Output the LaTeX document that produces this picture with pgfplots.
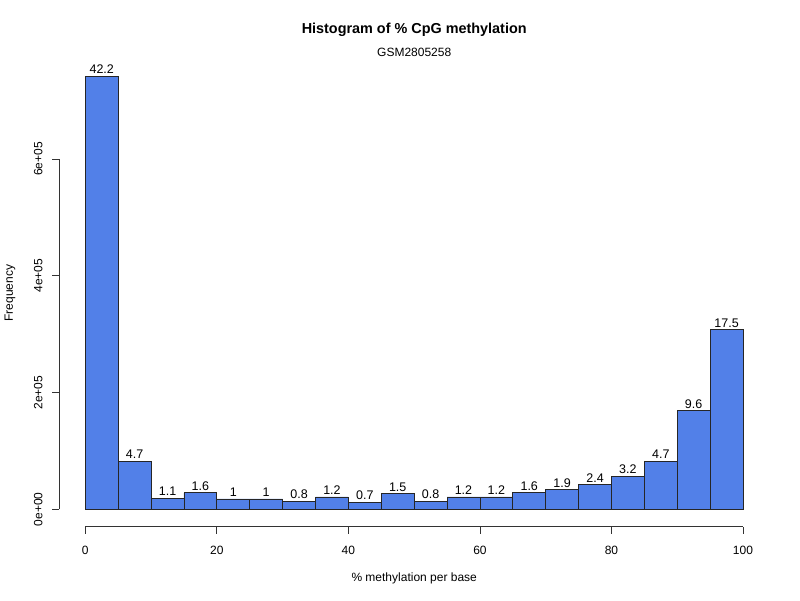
\documentclass[border=0pt]{standalone}
\usepackage{fontspec}
\setmainfont{Liberation Sans}
\usepackage{pgfplots}
\pgfplotsset{compat=1.18}
\usepackage{pgfplotstable}
\definecolor{barblue}{RGB}{82,128,232}
\pgfplotstableread{
x y lab
2.5 741900 42.2
7.5 82600 4.7
12.5 19300 1.1
17.5 28100 1.6
22.5 17600 1
27.5 17600 1
32.5 14100 0.8
37.5 21100 1.2
42.5 12300 0.7
47.5 26400 1.5
52.5 14100 0.8
57.5 21100 1.2
62.5 21100 1.2
67.5 28100 1.6
72.5 33400 1.9
77.5 42200 2.4
82.5 56300 3.2
87.5 82600 4.7
92.5 168800 9.6
97.5 307700 17.5
}\histdata
\begin{document}
\begin{tikzpicture}[x=1pt,y=1pt]
\path[use as bounding box] (0,0) rectangle (800,600);
\begin{axis}[
  at={(59pt,73.4pt)}, anchor=south west,
  scale only axis, width=710.3pt, height=467.9pt,
  xmin=-4, xmax=104, ymin=-29690, ymax=771900,
  axis line style={draw=none},
  xtick={0,20,40,60,80,100},
  ytick={0,200000,400000,600000},
  yticklabels={0e+00,2e+05,4e+05,6e+05},
  scaled y ticks=false,
  xtick pos=bottom, ytick pos=left,
  tick align=outside, major tick length=7pt,
  tick style={black!80, line width=0.8pt},
  ticklabel style={font=\fontsize{12}{14}\selectfont},
  /pgf/number format/assume math mode=true,
  yticklabel style={rotate=90, anchor=south},
  xticklabel shift=9pt,
  yticklabel shift=6pt,
  clip=false,
]
\addplot[ybar, bar width=5, fill=barblue, draw=black!85, line width=0.8pt,
  nodes near coords, point meta=explicit symbolic,
  nodes near coords style={font=\fontsize{12.5}{14}\selectfont, anchor=south, inner sep=2pt, black}]
  table[x=x, y=y, meta=lab] {\histdata};
\draw[black!80, line width=0.8pt] (axis cs:0,-29690) -- (axis cs:100,-29690);
\draw[black!80, line width=0.8pt] (axis cs:-4,0) -- (axis cs:-4,600000);
\end{axis}
\node[font=\bfseries\fontsize{14.4}{17}\selectfont] at (414.2,570) {Histogram of \% CpG methylation};
\node[font=\fontsize{12}{14}\selectfont] at (414.2,548) {GSM2805258};
\node[font=\fontsize{12}{14}\selectfont] at (414.2,22) {\% methylation per base};
\node[font=\fontsize{12}{14}\selectfont, rotate=90] at (10,307) {Frequency};
\end{tikzpicture}
\end{document}
